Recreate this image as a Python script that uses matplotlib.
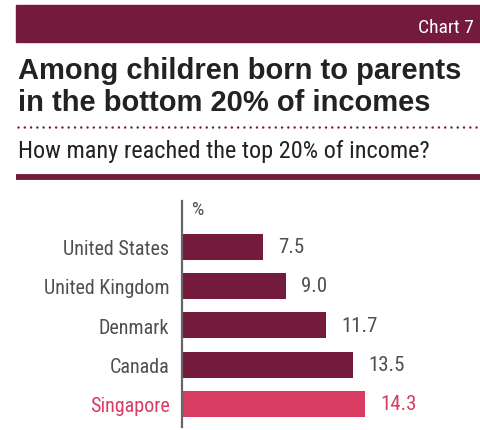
import matplotlib.pyplot as plt
from matplotlib.lines import Line2D
from matplotlib.patches import Rectangle

countries = ["United States", "United Kingdom", "Denmark", "Canada", "Singapore"]
values = [7.5, 9.0, 11.7, 13.5, 14.3]
value_labels = ["7.5", "9.0", "11.7", "13.5", "14.3"]

MAROON = "#741a3c"
PINK = "#d93c62"
GREY = "#4f4f4f"
NARROW = ["Roboto Condensed", "Archivo Narrow", "DejaVu Sans"]
BOLD = ["Liberation Sans", "Arimo", "DejaVu Sans"]

W, H = 481, 431
fig = plt.figure(figsize=(W / 100, H / 100), dpi=100)


def fx(px):
    return px / W


def fy(py):
    return 1 - py / H


# header banner
fig.patches.append(Rectangle((fx(16), fy(43)), fx(465), 37 / H,
                             transform=fig.transFigure, color=MAROON, zorder=0))
fig.text(fx(474), fy(33), "Chart 7", color="white", ha="right", va="baseline",
         fontsize=14, family=NARROW)

fig.text(fx(18), fy(79), "Among children born to parents", fontsize=21,
         fontweight="bold", color="#222222", family=BOLD,
         ha="left", va="baseline")
fig.text(fx(18), fy(111), "in the bottom 20% of incomes", fontsize=21,
         fontweight="bold", color="#222222", family=BOLD,
         ha="left", va="baseline")

# dotted rule
fig.add_artist(Line2D([fx(18), fx(481)], [fy(128), fy(128)], transform=fig.transFigure,
                      color=MAROON, linewidth=1.8, linestyle=(0, (0.01, 2.5)),
                      dash_capstyle="round"))

fig.text(fx(18), fy(158), "How many reached the top 20% of income?", fontsize=17.5,
         color="#222222", family=NARROW, ha="left", va="baseline")

# thick rule
fig.add_artist(Line2D([fx(16), fx(481)], [fy(178), fy(178)], transform=fig.transFigure,
                      color=MAROON, linewidth=4.2, solid_capstyle="butt"))

# bars
ax = fig.add_axes([fx(182), fy(428), fx(299), 226 / H])
colors = [MAROON] * 4 + [PINK]
ypos = range(len(countries))
ax.barh(ypos, values, height=0.66, color=colors, left=0)
ax.set_xlim(2.1, 2.1 + 299 / 15)
ax.set_ylim(4.585, -1.16)

for y, v, lab, c in zip(ypos, values, value_labels, colors):
    ax.annotate(lab, (v, y), xytext=(11, 0), textcoords="offset points",
                va="center", ha="left", fontsize=15, family=NARROW,
                color=PINK if c == PINK else GREY)

ax.set_yticks(list(ypos))
ax.set_yticklabels(countries, fontsize=14.5, family=NARROW)
for t, c in zip(ax.get_yticklabels(), colors):
    t.set_color(PINK if c == PINK else GREY)
ax.tick_params(axis="y", length=0, pad=9)
ax.set_xticks([])
for s in ["top", "right", "bottom"]:
    ax.spines[s].set_visible(False)
ax.spines["left"].set_color("#666666")
ax.spines["left"].set_linewidth(1.6)
ax.patch.set_alpha(0)

ax.text(0.035, 0.965, "%", transform=ax.transAxes, fontsize=14, family=NARROW,
        color=GREY, ha="left", va="center")

fig.savefig("out.png", dpi=100)
